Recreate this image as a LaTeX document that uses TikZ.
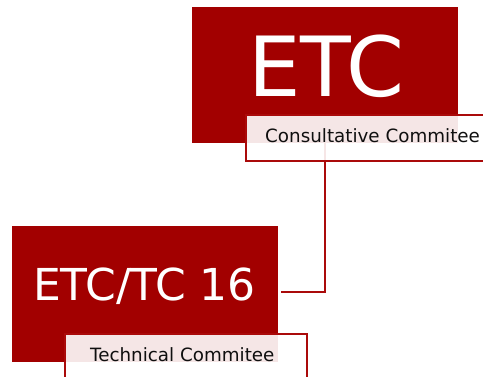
\documentclass[tikz,border=0pt]{standalone}
\usepackage{fontspec}
\setmainfont{DejaVu Sans}
\definecolor{etcred}{RGB}{162,0,0}
\definecolor{edgered}{RGB}{170,10,10}
\definecolor{txt}{RGB}{15,15,15}
\begin{document}
\begin{tikzpicture}[x=1bp,y=-1bp,
  redbox/.style={fill=etcred, draw=none, minimum width=266bp, minimum height=136bp, inner sep=0pt, anchor=north west},
  labelbox/.style={fill=white, fill opacity=0.9, draw=edgered, line width=2.4bp, anchor=north west, inner sep=0pt, minimum height=46bp},
  bigtext/.style={text=white, inner sep=0pt, anchor=base, font=\fontsize{83bp}{83bp}\selectfont},
  midtext/.style={text=white, inner sep=0pt, anchor=base, font=\fontsize{44bp}{44bp}\selectfont},
  labeltext/.style={text=txt, inner sep=0pt, anchor=base west, font=\fontsize{18.3bp}{20bp}\selectfont},
  conn/.style={draw=edgered, line width=2.4bp}]
\useasboundingbox (0,0) rectangle (483,376);
\clip (0,0) rectangle (483,376);
% red boxes
\node[redbox] (etc) at (192,7) {};
\node[redbox] (tc16) at (12,226) {};
% connector
\coordinate (tcend) at (281,292);
\draw[conn] (etc.south) |- (tcend);
% label boxes
\node[labelbox, minimum width=242bp] (cclab) at (245,114) {};
\node[labelbox, minimum width=242bp] (tclab) at (64,333) {};
% texts
\node[bigtext] (etct) at (326.5,96.7) {ETC};
\node[midtext] (tct) at (144.5,300) {ETC/TC 16};
\node[labeltext] (cct) at (265,142.3) {Consultative Commitee};
\node[labeltext] (tcl) at (90,361.7) {Technical Commitee};
\end{tikzpicture}
\end{document}
